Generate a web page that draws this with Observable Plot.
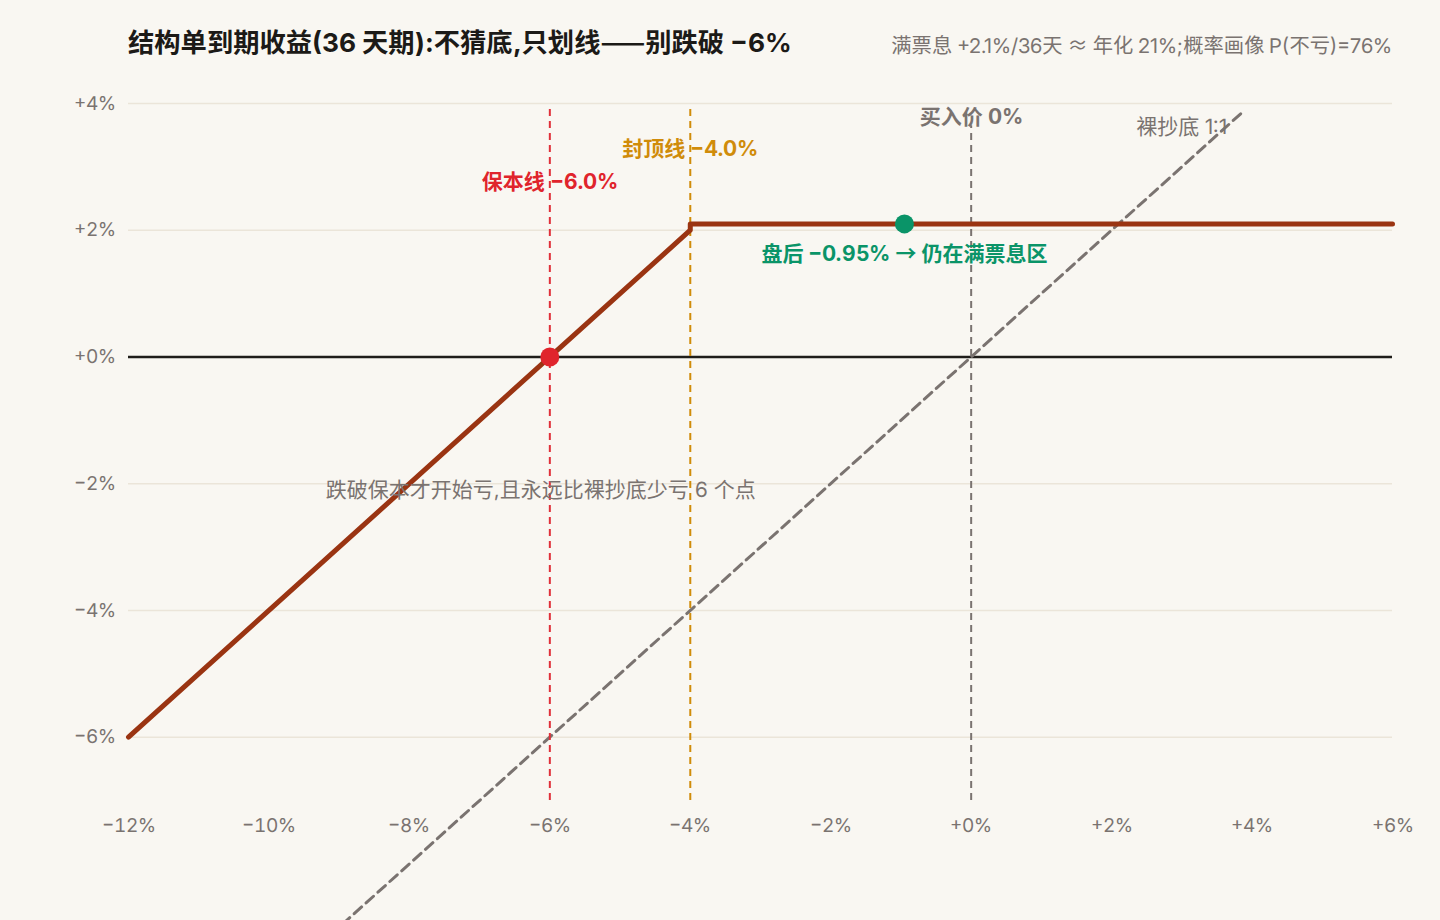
<!DOCTYPE html>
<html>
<head>
<meta charset="utf-8">
<script src="https://cdn.jsdelivr.net/npm/d3@7"></script>
<script src="https://cdn.jsdelivr.net/npm/@observablehq/plot@0.6"></script>
<style>
  @font-face { font-family: "LX"; src: local("Inter Regular"), local("Inter-Regular"), local("Inter"); font-weight: 400; unicode-range: U+0000-00FF, U+2212; }
  @font-face { font-family: "LX"; src: local("Inter Bold"), local("Inter-Bold"), local("Inter"); font-weight: 700; unicode-range: U+0000-00FF, U+2212; }
  html, body { margin: 0; padding: 0; background: #f9f7f2; }
  body { width: 1440px; height: 920px; overflow: hidden; font-family: "LX", "Noto Sans CJK SC", sans-serif; }
  #head { position: relative; height: 80px; }
  #title { position: absolute; left: 128px; top: 27px; font-size: 26.3px; font-weight: 700; color: #1c1a17; white-space: nowrap; line-height: 1.2; }
  #sub { position: absolute; right: 48px; top: 34px; font-size: 20.3px; color: #7a7370; white-space: nowrap; line-height: 1.2; }
</style>
</head>
<body>
<div id="head">
  <div id="title">结构单到期收益(36 天期):不猜底,只划线——别跌破 −6%</div>
  <div id="sub">满票息 +2.1%/36天 ≈ 年化 21%;概率画像 P(不亏)=76%</div>
</div>
<div id="chart"></div>
<script>
// ---- data ----
const xTicks = [-12, -10, -8, -6, -4, -2, 0, 2, 4, 6];
const yTicks = [-6, -4, -2, 0, 2, 4];
const gridY = [-6, -4, -2, 2, 4];
const payoffX = [-12, -4, -4, 6];
const payoffY = [-6, 2, 2.1, 2.1];
const nakedX = [-12, 3.9];
const nakedY = [-12, 3.9];
const protectLevel = -6;
const capLevel = -4;
const buyLevel = 0;
const afterHoursX = -0.95;
const couponY = 2.1;

const fmt = d => (d >= 0 ? "+" : "−") + Math.abs(d) + "%";

const payoff = payoffX.map((x, i) => ({x, y: payoffY[i]}));
const naked = nakedX.map((x, i) => ({x, y: nakedY[i]}));

const labels = [
  {x: protectLevel, y: 2.76, text: "保本线 −6.0%", fill: "#e0242c"},
  {x: capLevel, y: 3.27, text: "封顶线 −4.0%", fill: "#d08c0a"},
  {x: buyLevel, y: 3.78, text: "买入价 0%", fill: "#7a7370"},
  {x: afterHoursX, y: 1.62, text: "盘后 −0.95% → 仍在满票息区", fill: "#0a9468"},
];

const FONT = '"LX", "Noto Sans CJK SC", sans-serif';

const chart = Plot.plot({
  width: 1440,
  height: 840,
  marginLeft: 128,
  marginRight: 48,
  marginTop: 23,
  marginBottom: 120,
  style: {background: "transparent", fontFamily: FONT, fontSize: "19px", color: "#7a7370", overflow: "hidden"},
  x: {domain: [-12, 6], label: null},
  y: {domain: [-7, 4], label: null},
  marks: [
    Plot.ruleY(gridY, {stroke: "#ebe5d9", strokeWidth: 1.5}),
    Plot.ruleY([0], {stroke: "#1f1d1a", strokeWidth: 2.4}),
    Plot.axisX({ticks: xTicks, tickFormat: fmt, tickSize: 0, tickPadding: 18, fill: "#7a7370", fontSize: 19, label: null}),
    Plot.axisY({ticks: yTicks, tickFormat: fmt, tickSize: 0, tickPadding: 13, fill: "#7a7370", fontSize: 19, label: null}),
    Plot.line(naked, {x: "x", y: "y", stroke: "#7a7370", strokeWidth: 3, strokeDasharray: "10,6", clip: false}),
    Plot.ruleX([protectLevel], {y1: -7, y2: 3.95, stroke: "#e0303a", strokeWidth: 2, strokeDasharray: "7,5"}),
    Plot.ruleX([capLevel], {y1: -7, y2: 3.95, stroke: "#d08c0a", strokeWidth: 2, strokeDasharray: "7,5"}),
    Plot.ruleX([buyLevel], {y1: -7, y2: 3.65, stroke: "#7a7370", strokeWidth: 2, strokeDasharray: "7,5"}),
    Plot.line(payoff, {x: "x", y: "y", stroke: "#9a3412", strokeWidth: 5, strokeLinecap: "round", strokeLinejoin: "round"}),
    Plot.dot([{x: protectLevel, y: 0}], {x: "x", y: "y", r: 9.5, fill: "#e0242c"}),
    Plot.dot([{x: afterHoursX, y: couponY}], {x: "x", y: "y", r: 9.5, fill: "#0a9468"}),
    ...labels.map(l => Plot.text([l], {x: "x", y: "y", text: "text", fill: l.fill, fontWeight: 700, textAnchor: "middle", fontSize: 21})),
    Plot.text([{x: 3.0, y: 3.62, t: "裸抄底 1:1"}], {x: "x", y: "y", text: "t", fill: "#7a7370", fontSize: 21}),
    Plot.text([{x: -9.19, y: -2.1, t: "跌破保本才开始亏,且永远比裸抄底少亏 6 个点"}], {x: "x", y: "y", text: "t", fill: "#7a7370", fontSize: 21, textAnchor: "start"})
  ]
});
document.getElementById("chart").appendChild(chart);
</script>
</body>
</html>
